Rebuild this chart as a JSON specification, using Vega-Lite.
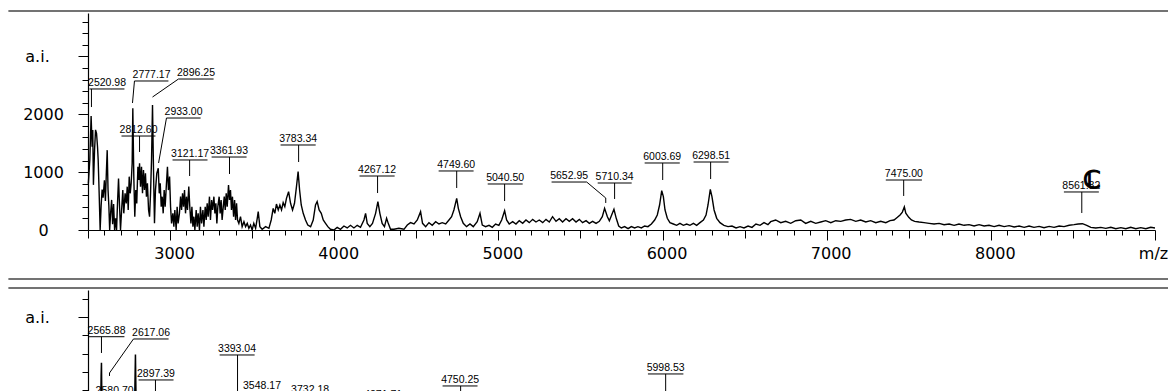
{
"$schema": "https://vega.github.io/schema/vega-lite/v6.json",
"background": "white",
"padding": {"left": 7, "top": 10, "right": 0, "bottom": 0},
"bounds": "flush",
"spacing": 60,
"config": {"view": {"stroke": null}},
"datasets": {
"spec1": [
{"mz":2502,"ai":800},{"mz":2511,"ai":1210},{"mz":2519,"ai":1970},{"mz":2525,"ai":1440},{"mz":2529,"ai":1730},{"mz":2533,"ai":780},{"mz":2540,"ai":1380},{"mz":2546,"ai":1730},{"mz":2552,"ai":1670},{"mz":2558,"ai":1440},{"mz":2562,"ai":1210},{"mz":2568,"ai":630},{"mz":2574,"ai":0},{"mz":2580,"ai":420},{"mz":2586,"ai":700},{"mz":2592,"ai":560},{"mz":2600,"ai":860},{"mz":2606,"ai":500},{"mz":2612,"ai":1000},{"mz":2617,"ai":1380},{"mz":2622,"ai":700},{"mz":2627,"ai":420},{"mz":2632,"ai":0},{"mz":2638,"ai":300},{"mz":2644,"ai":520},{"mz":2650,"ai":100},{"mz":2656,"ai":450},{"mz":2662,"ai":0},{"mz":2668,"ai":200},{"mz":2674,"ai":0},{"mz":2680,"ai":480},{"mz":2686,"ai":890},{"mz":2692,"ai":420},{"mz":2698,"ai":0},
{"mz":2706,"ai":403},{"mz":2712,"ai":690},{"mz":2718,"ai":288},{"mz":2726,"ai":634},{"mz":2733,"ai":460},{"mz":2739,"ai":749},{"mz":2745,"ai":345},{"mz":2751,"ai":922},{"mz":2757,"ai":634},{"mz":2763,"ai":806},{"mz":2769,"ai":1152},{"mz":2773,"ai":2102},{"mz":2779,"ai":922},{"mz":2785,"ai":230},{"mz":2791,"ai":690},{"mz":2797,"ai":460},{"mz":2804,"ai":1094},{"mz":2810,"ai":864},{"mz":2814,"ai":1152},{"mz":2820,"ai":749},{"mz":2826,"ai":1094},{"mz":2832,"ai":634},{"mz":2838,"ai":1037},{"mz":2844,"ai":690},{"mz":2850,"ai":979},{"mz":2856,"ai":576},{"mz":2862,"ai":806},{"mz":2869,"ai":345},{"mz":2875,"ai":230},{"mz":2881,"ai":634},{"mz":2887,"ai":1210},{"mz":2893,"ai":2160},{"mz":2899,"ai":1037},{"mz":2905,"ai":115},{"mz":2911,"ai":690},{"mz":2919,"ai":979},{"mz":2928,"ai":1066},{"mz":2934,"ai":634},{"mz":2940,"ai":806},{"mz":2946,"ai":403},{"mz":2952,"ai":576},{"mz":2958,"ai":288},{"mz":2964,"ai":690},{"mz":2970,"ai":403},{"mz":2978,"ai":806},{"mz":2984,"ai":1094},{"mz":2990,"ai":690},{"mz":2997,"ai":922},{"mz":3003,"ai":403},{"mz":3009,"ai":115},{"mz":3017,"ai":288},{"mz":3023,"ai":58},{"mz":3029,"ai":345},{"mz":3037,"ai":0},{"mz":3043,"ai":403},{"mz":3049,"ai":115},{"mz":3057,"ai":288},{"mz":3064,"ai":576},{"mz":3070,"ai":345},{"mz":3076,"ai":634},{"mz":3082,"ai":403},{"mz":3088,"ai":690},{"mz":3094,"ai":288},{"mz":3100,"ai":576},{"mz":3106,"ai":345},{"mz":3114,"ai":749},{"mz":3120,"ai":403},{"mz":3127,"ai":115},{"mz":3133,"ai":403},{"mz":3139,"ai":58},{"mz":3145,"ai":230},{"mz":3151,"ai":0},{"mz":3159,"ai":345},{"mz":3165,"ai":58},{"mz":3171,"ai":288},{"mz":3179,"ai":0},{"mz":3185,"ai":403},{"mz":3192,"ai":115},{"mz":3200,"ai":345},{"mz":3206,"ai":58},{"mz":3214,"ai":403},{"mz":3220,"ai":173},{"mz":3226,"ai":460},{"mz":3232,"ai":230},{"mz":3240,"ai":576},{"mz":3246,"ai":173},{"mz":3253,"ai":518},{"mz":3259,"ai":345},{"mz":3267,"ai":576},{"mz":3273,"ai":288},{"mz":3279,"ai":460},{"mz":3285,"ai":115},{"mz":3291,"ai":403},{"mz":3299,"ai":576},{"mz":3305,"ai":288},{"mz":3311,"ai":518},{"mz":3317,"ai":173},{"mz":3324,"ai":403},{"mz":3330,"ai":576},{"mz":3336,"ai":345},{"mz":3342,"ai":634},{"mz":3348,"ai":403},{"mz":3356,"ai":778},{"mz":3362,"ai":518},{"mz":3368,"ai":690},{"mz":3374,"ai":345},{"mz":3380,"ai":576},{"mz":3387,"ai":230},{"mz":3393,"ai":518},{"mz":3399,"ai":173},{"mz":3405,"ai":460},{"mz":3411,"ai":173},{"mz":3419,"ai":115},{"mz":3429,"ai":230},{"mz":3439,"ai":58},{"mz":3450,"ai":144},{"mz":3460,"ai":58},{"mz":3470,"ai":115},{"mz":3480,"ai":29},{"mz":3490,"ai":86},{"mz":3500,"ai":0},{"mz":3510,"ai":115},{"mz":3521,"ai":29},{"mz":3531,"ai":201},{"mz":3537,"ai":317},{"mz":3547,"ai":58},{"mz":3561,"ai":12},{"mz":3582,"ai":58},{"mz":3602,"ai":29},{"mz":3616,"ai":173},{"mz":3628,"ai":374},{"mz":3638,"ai":288},{"mz":3648,"ai":449},{"mz":3659,"ai":346},{"mz":3669,"ai":432},{"mz":3679,"ai":346},{"mz":3689,"ai":472},{"mz":3699,"ai":403},{"mz":3709,"ai":547},{"mz":3722,"ai":662},{"mz":3734,"ai":461},{"mz":3746,"ai":346},{"mz":3758,"ai":461},{"mz":3770,"ai":749},{"mz":3780,"ai":1008},{"mz":3789,"ai":691},{"mz":3799,"ai":432},{"mz":3811,"ai":288},{"mz":3825,"ai":173},{"mz":3839,"ai":86},{"mz":3856,"ai":58},{"mz":3872,"ai":173},{"mz":3886,"ai":432},{"mz":3896,"ai":490},{"mz":3908,"ai":346},{"mz":3921,"ai":288},{"mz":3933,"ai":173},{"mz":3947,"ai":115},{"mz":3961,"ai":58},{"mz":3977,"ai":12},{"mz":3998,"ai":0},{"mz":4018,"ai":46},{"mz":4038,"ai":12},{"mz":4059,"ai":69},{"mz":4079,"ai":35},{"mz":4099,"ai":81},{"mz":4120,"ai":35},{"mz":4140,"ai":81},{"mz":4160,"ai":46},{"mz":4181,"ai":173},{"mz":4191,"ai":288},{"mz":4201,"ai":115},{"mz":4217,"ai":58},{"mz":4233,"ai":115},{"mz":4252,"ai":288},{"mz":4266,"ai":490},{"mz":4278,"ai":288},{"mz":4292,"ai":115},{"mz":4306,"ai":58},{"mz":4319,"ai":202},{"mz":4329,"ai":115},{"mz":4343,"ai":12},{"mz":4364,"ai":12},{"mz":4394,"ai":29},{"mz":4425,"ai":12},{"mz":4445,"ai":86},{"mz":4465,"ai":127},{"mz":4486,"ai":104},{"mz":4506,"ai":173},{"mz":4526,"ai":317},{"mz":4538,"ai":115},{"mz":4557,"ai":58},{"mz":4577,"ai":127},{"mz":4597,"ai":81},{"mz":4618,"ai":144},{"mz":4638,"ai":104},{"mz":4658,"ai":127},{"mz":4679,"ai":104},{"mz":4699,"ai":173},{"mz":4715,"ai":230},{"mz":4729,"ai":346},{"mz":4746,"ai":547},{"mz":4756,"ai":374},{"mz":4770,"ai":230},{"mz":4786,"ai":115},{"mz":4806,"ai":58},{"mz":4827,"ai":104},{"mz":4847,"ai":58},{"mz":4871,"ai":144},{"mz":4888,"ai":288},{"mz":4902,"ai":86},{"mz":4922,"ai":58},{"mz":4943,"ai":81},{"mz":4963,"ai":46},{"mz":4983,"ai":104},{"mz":5003,"ai":81},{"mz":5020,"ai":173},{"mz":5038,"ai":334},{"mz":5050,"ai":173},{"mz":5066,"ai":104},{"mz":5087,"ai":144},{"mz":5107,"ai":104},{"mz":5127,"ai":161},{"mz":5148,"ai":115},{"mz":5168,"ai":173},{"mz":5188,"ai":127},{"mz":5209,"ai":184},{"mz":5229,"ai":138},{"mz":5249,"ai":173},{"mz":5270,"ai":127},{"mz":5290,"ai":184},{"mz":5310,"ai":138},{"mz":5330,"ai":230},{"mz":5351,"ai":150},{"mz":5371,"ai":196},{"mz":5391,"ai":138},{"mz":5412,"ai":196},{"mz":5432,"ai":150},{"mz":5452,"ai":196},{"mz":5473,"ai":138},{"mz":5493,"ai":184},{"mz":5513,"ai":127},{"mz":5534,"ai":161},{"mz":5554,"ai":115},{"mz":5574,"ai":150},{"mz":5595,"ai":115},{"mz":5615,"ai":150},{"mz":5633,"ai":230},{"mz":5647,"ai":374},{"mz":5664,"ai":230},{"mz":5676,"ai":161},{"mz":5690,"ai":259},{"mz":5704,"ai":357},{"mz":5718,"ai":202},{"mz":5733,"ai":69},{"mz":5749,"ai":35},{"mz":5769,"ai":58},{"mz":5790,"ai":23},{"mz":5810,"ai":58},{"mz":5830,"ai":35},{"mz":5850,"ai":58},{"mz":5871,"ai":35},{"mz":5891,"ai":69},{"mz":5911,"ai":58},{"mz":5932,"ai":104},{"mz":5952,"ai":173},{"mz":5968,"ai":259},{"mz":5982,"ai":432},{"mz":5995,"ai":680},{"mz":6005,"ai":576},{"mz":6015,"ai":346},{"mz":6029,"ai":202},{"mz":6045,"ai":127},{"mz":6066,"ai":104},{"mz":6086,"ai":81},{"mz":6106,"ai":115},{"mz":6127,"ai":81},{"mz":6147,"ai":104},{"mz":6167,"ai":81},{"mz":6188,"ai":115},{"mz":6208,"ai":81},{"mz":6228,"ai":127},{"mz":6249,"ai":173},{"mz":6265,"ai":259},{"mz":6277,"ai":432},{"mz":6291,"ai":703},{"mz":6301,"ai":576},{"mz":6314,"ai":346},{"mz":6330,"ai":202},{"mz":6350,"ai":127},{"mz":6374,"ai":81},{"mz":6399,"ai":58},{"mz":6423,"ai":69},{"mz":6448,"ai":35},{"mz":6472,"ai":58},{"mz":6496,"ai":35},{"mz":6521,"ai":69},{"mz":6545,"ai":46},{"mz":6569,"ai":104},{"mz":6594,"ai":81},{"mz":6618,"ai":127},{"mz":6642,"ai":92},{"mz":6659,"ai":144},{"mz":6689,"ai":173},{"mz":6720,"ai":127},{"mz":6750,"ai":150},{"mz":6781,"ai":115},{"mz":6811,"ai":161},{"mz":6842,"ai":173},{"mz":6872,"ai":115},{"mz":6903,"ai":150},{"mz":6933,"ai":115},{"mz":6964,"ai":138},{"mz":6994,"ai":161},{"mz":7025,"ai":127},{"mz":7055,"ai":161},{"mz":7086,"ai":150},{"mz":7116,"ai":173},{"mz":7146,"ai":184},{"mz":7177,"ai":150},{"mz":7207,"ai":173},{"mz":7238,"ai":138},{"mz":7268,"ai":161},{"mz":7299,"ai":127},{"mz":7329,"ai":150},{"mz":7360,"ai":127},{"mz":7386,"ai":161},{"mz":7410,"ai":173},{"mz":7431,"ai":219},{"mz":7447,"ai":260},{"mz":7461,"ai":310},{"mz":7473,"ai":400},{"mz":7482,"ai":290},{"mz":7500,"ai":219},{"mz":7516,"ai":173},{"mz":7536,"ai":150},{"mz":7563,"ai":138},{"mz":7593,"ai":127},{"mz":7624,"ai":115},{"mz":7654,"ai":104},{"mz":7685,"ai":115},{"mz":7715,"ai":92},{"mz":7746,"ai":104},{"mz":7776,"ai":81},{"mz":7806,"ai":104},{"mz":7837,"ai":81},{"mz":7867,"ai":92},{"mz":7898,"ai":69},{"mz":7928,"ai":92},{"mz":7959,"ai":69},{"mz":7989,"ai":81},{"mz":8020,"ai":58},{"mz":8050,"ai":81},{"mz":8081,"ai":58},{"mz":8111,"ai":75},{"mz":8142,"ai":52},{"mz":8172,"ai":69},{"mz":8203,"ai":46},{"mz":8233,"ai":69},{"mz":8263,"ai":46},{"mz":8294,"ai":63},{"mz":8324,"ai":40},{"mz":8355,"ai":63},{"mz":8385,"ai":46},{"mz":8416,"ai":69},{"mz":8446,"ai":58},{"mz":8477,"ai":81},{"mz":8507,"ai":92},{"mz":8532,"ai":104},{"mz":8558,"ai":109},{"mz":8584,"ai":81},{"mz":8609,"ai":46},{"mz":8639,"ai":35},{"mz":8670,"ai":46},{"mz":8700,"ai":29},{"mz":8731,"ai":46},{"mz":8761,"ai":23},{"mz":8792,"ai":40},{"mz":8822,"ai":23},{"mz":8852,"ai":46},{"mz":8883,"ai":23},{"mz":8913,"ai":40},{"mz":8944,"ai":23},{"mz":8974,"ai":46},{"mz":9000,"ai":35}
],
"labels1": [
{"label":"2520.98","tx":2616,"uy":2437,"u1":2509,"u2":2722},
{"label":"2777.17","tx":2887,"uy":2575,"u1":2783,"u2":2990},
{"label":"2896.25","tx":3158,"uy":2609,"u1":3051,"u2":3265},
{"label":"2812.60","tx":2808,"uy":1624,"u1":2704,"u2":2911},
{"label":"2933.00","tx":3082,"uy":1935,"u1":2978,"u2":3186},
{"label":"3121.17","tx":3122,"uy":1210,"u1":3015,"u2":3228},
{"label":"3361.93","tx":3359,"uy":1261,"u1":3253,"u2":3466},
{"label":"3783.34","tx":3780,"uy":1469,"u1":3673,"u2":3887},
{"label":"4267.12","tx":4261,"uy":933,"u1":4154,"u2":4368},
{"label":"4749.60","tx":4743,"uy":1020,"u1":4636,"u2":4849},
{"label":"5040.50","tx":5041,"uy":795,"u1":4935,"u2":5148},
{"label":"5652.95","tx":5431,"uy":829,"u1":5324,"u2":5538},
{"label":"5710.34","tx":5708,"uy":812,"u1":5605,"u2":5812},
{"label":"6003.69","tx":5998,"uy":1158,"u1":5891,"u2":6105},
{"label":"6298.51","tx":6296,"uy":1175,"u1":6189,"u2":6402},
{"label":"7475.00","tx":7470,"uy":864,"u1":7360,"u2":7580},
{"label":"8561.82","tx":8551,"uy":657,"u1":8445,"u2":8658}
],
"leaders1": [
{"x1":2521,"y1":2437,"x2":2521,"y2":2125},
{"x1":2783,"y1":2575,"x2":2771,"y2":2195},
{"x1":3051,"y1":2609,"x2":2893,"y2":2298},
{"x1":2814,"y1":1624,"x2":2814,"y2":1348},
{"x1":2978,"y1":1935,"x2":2930,"y2":1158},
{"x1":3119,"y1":1210,"x2":3119,"y2":933},
{"x1":3362,"y1":1261,"x2":3362,"y2":968},
{"x1":3783,"y1":1469,"x2":3783,"y2":1175},
{"x1":4264,"y1":933,"x2":4264,"y2":639},
{"x1":4746,"y1":1020,"x2":4746,"y2":726},
{"x1":5038,"y1":795,"x2":5038,"y2":501},
{"x1":5538,"y1":829,"x2":5654,"y2":553},
{"x1":5654,"y1":553,"x2":5654,"y2":467},
{"x1":5708,"y1":812,"x2":5708,"y2":536},
{"x1":6001,"y1":1158,"x2":6001,"y2":864},
{"x1":6293,"y1":1175,"x2":6293,"y2":881},
{"x1":7469,"y1":864,"x2":7469,"y2":588},
{"x1":8554,"y1":657,"x2":8554,"y2":294}
],
"frame1": [
{"x1":2015,"x2":9085,"y":3785},
{"x1":2015,"x2":9085,"y":-847}
],
"spec2": [
{"mz":2500,"ai":400},{"mz":2540,"ai":900},{"mz":2560,"ai":1000},{"mz":2575,"ai":700},{"mz":2580,"ai":1350},{"mz":2582,"ai":1500},{"mz":2586,"ai":800},{"mz":2620,"ai":900},{"mz":2640,"ai":600},{"mz":2700,"ai":700},{"mz":2760,"ai":900},{"mz":2785,"ai":1150},{"mz":2789,"ai":1590},{"mz":2794,"ai":900},{"mz":2850,"ai":800},{"mz":2900,"ai":1000},{"mz":2950,"ai":600},{"mz":3000,"ai":500},{"mz":3100,"ai":400},{"mz":3200,"ai":500},{"mz":3300,"ai":600},{"mz":3393,"ai":700},{"mz":3500,"ai":300},{"mz":3548,"ai":500},{"mz":3600,"ai":200},{"mz":3732,"ai":500},{"mz":3800,"ai":200},{"mz":4000,"ai":100},{"mz":4271,"ai":300},{"mz":4400,"ai":100},{"mz":4750,"ai":500},{"mz":4900,"ai":100},{"mz":5500,"ai":100},{"mz":5998,"ai":600},{"mz":6200,"ai":100},{"mz":7000,"ai":100},{"mz":9000,"ai":50}
],
"labels2": [
{"label":"2565.88","tx":2613,"uy":1786,"u1":2503,"u2":2722},
{"label":"2617.06","tx":2884,"uy":1761,"u1":2777,"u2":2991},
{"label":"2897.39","tx":2914,"uy":1310,"u1":2808,"u2":3021},
{"label":"3393.04","tx":3408,"uy":1585,"u1":3302,"u2":3515},
{"label":"3548.17","tx":3560,"uy":1177,"u1":3455,"u2":3665},
{"label":"3732.18","tx":3853,"uy":1133,"u1":3746,"u2":3960},
{"label":"4271.71","tx":4298,"uy":1078,"u1":4190,"u2":4405},
{"label":"4750.25","tx":4767,"uy":1244,"u1":4660,"u2":4873},
{"label":"5998.53","tx":6019,"uy":1376,"u1":5911,"u2":6127},
{"label":"2580.70","tx":2662,"uy":1122,"u1":2555,"u2":2769}
],
"leaders2": [
{"x1":2582,"y1":1786,"x2":2582,"y2":1607},
{"x1":2777,"y1":1761,"x2":2631,"y2":1387},
{"x1":2631,"y1":1387,"x2":2631,"y2":1354},
{"x1":2911,"y1":1310,"x2":2911,"y2":900},
{"x1":3411,"y1":1585,"x2":3411,"y2":800},
{"x1":3560,"y1":1177,"x2":3560,"y2":800},
{"x1":3853,"y1":1133,"x2":3853,"y2":800},
{"x1":4298,"y1":1078,"x2":4298,"y2":700},
{"x1":4770,"y1":1244,"x2":4770,"y2":800},
{"x1":6019,"y1":1376,"x2":6019,"y2":800},
{"x1":2662,"y1":1122,"x2":2662,"y2":800}
],
"frame2": [
{"x1":2015,"x2":9085,"y":2322}
],
"sym1": [
{"sym":"ℂ","mz":8616,"ai":847}
]
},
"vconcat": [
{
"width": 1067, "height": 217,
"layer": [
{"data": {"name": "spec1"}, "mark": {"type": "line", "color": "#000", "strokeWidth": 1.4},
"encoding": {
"x": {"field": "mz", "type": "quantitative", "scale": {"domain": [2500, 9000], "nice": false, "zero": false},
"axis": {"title": null, "grid": false, "tickCount": 500, "values": [2500,2600,2700,2800,2900,3000,3100,3200,3300,3400,3500,3600,3700,3800,3900,4000,4100,4200,4300,4400,4500,4600,4700,4800,4900,5000,5100,5200,5300,5400,5500,5600,5700,5800,5900,6000,6100,6200,6300,6400,6500,6600,6700,6800,6900,7000,7100,7200,7300,7400,7500,7600,7700,7800,7900,8000,8100,8200,8300,8400,8500,8600,8700,8800,8900,9000],
"format": "d", "labelExpr": "datum.value == 9000 ? 'm/z' : (datum.value % 1000 == 0 ? datum.label : '')",
"tickSize": {"condition": [{"test": "datum.value % 1000 == 0", "value": 10}, {"test": "datum.value % 500 == 0", "value": 8}], "value": 5},
"labelOffset": {"condition": {"test": "datum.value == 9000", "value": -2}, "value": 4},
"labelPadding": 5, "labelOverlap": false, "labelBound": false, "labelFlush": false,
"domainColor": "#000", "domainWidth": 1.2, "tickColor": "#000", "tickWidth": 1, "labelColor": "#000", "labelFont": "DejaVu Sans", "labelFontSize": 16}},
"y": {"field": "ai", "type": "quantitative", "scale": {"domain": [0, 3750], "nice": false, "zero": false},
"axis": {"title": null, "grid": false, "tickCount": 500, "values": [0,200,400,600,800,1000,1200,1400,1600,1800,2000,2200,2400,2600,2800,3000,3200,3400,3600],
"format": "d", "labelExpr": "datum.value == 3000 ? 'a.i.' : (datum.value % 1000 == 0 ? datum.label : '')",
"tickSize": {"condition": {"test": "datum.value % 1000 == 0", "value": 10}, "value": 6},
"labelAlign": "center",
"labelPadding": {"condition": {"test": "datum.value == 3000", "value": 41}, "value": 35},
"labelOverlap": false, "labelBound": false, "labelFlush": false,
"domainColor": "#000", "domainWidth": 1.2, "tickColor": "#000", "tickWidth": 1, "labelColor": "#000", "labelFont": "DejaVu Sans", "labelFontSize": 16}}
}},
{"data": {"name": "labels1"}, "mark": {"type": "rule", "color": "#000", "strokeWidth": 1},
"encoding": {"x": {"field": "u1", "type": "quantitative", "scale": {"domain": [2500, 9000], "nice": false, "zero": false}}, "x2": {"field": "u2"},
"y": {"field": "uy", "type": "quantitative", "scale": {"domain": [0, 3750], "nice": false, "zero": false}}}},
{"data": {"name": "leaders1"}, "mark": {"type": "rule", "color": "#000", "strokeWidth": 1},
"encoding": {"x": {"field": "x1", "type": "quantitative", "scale": {"domain": [2500, 9000], "nice": false, "zero": false}}, "x2": {"field": "x2"},
"y": {"field": "y1", "type": "quantitative", "scale": {"domain": [0, 3750], "nice": false, "zero": false}}, "y2": {"field": "y2"}}},
{"data": {"name": "labels1"}, "mark": {"type": "text", "font": "Liberation Sans", "fontSize": 10.5, "align": "center", "baseline": "alphabetic", "dy": -3, "color": "#000"},
"encoding": {"x": {"field": "tx", "type": "quantitative", "scale": {"domain": [2500, 9000], "nice": false, "zero": false}},
"y": {"field": "uy", "type": "quantitative", "scale": {"domain": [0, 3750], "nice": false, "zero": false}}, "text": {"field": "label"}}},
{"data": {"name": "sym1"}, "mark": {"type": "text", "font": "DejaVu Sans", "fontWeight": "bold", "fontSize": 24, "align": "center", "baseline": "middle", "color": "#000", "stroke": "#000", "strokeWidth": 1.2},
"encoding": {"x": {"field": "mz", "type": "quantitative", "scale": {"domain": [2500, 9000], "nice": false, "zero": false}},
"y": {"field": "ai", "type": "quantitative", "scale": {"domain": [0, 3750], "nice": false, "zero": false}}, "text": {"field": "sym"}}},
{"data": {"name": "frame1"}, "mark": {"type": "rule", "color": "#444", "strokeWidth": 1.5},
"encoding": {"x": {"field": "x1", "type": "quantitative", "scale": {"domain": [2500, 9000], "nice": false, "zero": false}}, "x2": {"field": "x2"},
"y": {"field": "y", "type": "quantitative", "scale": {"domain": [0, 3750], "nice": false, "zero": false}}}}
]
},
{
"width": 1067, "height": 209,
"layer": [
{"data": {"name": "spec2"}, "mark": {"type": "line", "color": "#000", "strokeWidth": 1.5},
"encoding": {
"x": {"field": "mz", "type": "quantitative", "scale": {"domain": [2500, 9000], "nice": false, "zero": false},
"axis": {"title": null, "grid": false, "tickCount": 500, "values": [2500,2600,2700,2800,2900,3000,3100,3200,3300,3400,3500,3600,3700,3800,3900,4000,4100,4200,4300,4400,4500,4600,4700,4800,4900,5000,5100,5200,5300,5400,5500,5600,5700,5800,5900,6000,6100,6200,6300,6400,6500,6600,6700,6800,6900,7000,7100,7200,7300,7400,7500,7600,7700,7800,7900,8000,8100,8200,8300,8400,8500,8600,8700,8800,8900,9000],
"format": "d", "labelExpr": "datum.value == 9000 ? 'm/z' : (datum.value % 1000 == 0 ? datum.label : '')",
"tickSize": {"condition": [{"test": "datum.value % 1000 == 0", "value": 10}, {"test": "datum.value % 500 == 0", "value": 8}], "value": 5},
"labelOffset": {"condition": {"test": "datum.value == 9000", "value": -2}, "value": 4},
"labelPadding": 5, "labelOverlap": false, "labelBound": false, "labelFlush": false,
"domainColor": "#000", "domainWidth": 1.2, "tickColor": "#000", "tickWidth": 1, "labelColor": "#000", "labelFont": "DejaVu Sans", "labelFontSize": 16}},
"y": {"field": "ai", "type": "quantitative", "scale": {"domain": [0, 2300], "nice": false, "zero": false},
"axis": {"title": null, "grid": false, "tickCount": 500, "values": [0,200,400,600,800,1000,1200,1400,1600,1800,2000,2200],
"format": "d", "labelExpr": "datum.value == 2000 ? 'a.i.' : (datum.value % 1000 == 0 ? datum.label : '')",
"tickSize": {"condition": {"test": "datum.value % 1000 == 0", "value": 10}, "value": 6},
"labelAlign": "center",
"labelPadding": {"condition": {"test": "datum.value == 2000", "value": 41}, "value": 35},
"labelOverlap": false, "labelBound": false, "labelFlush": false,
"domainColor": "#000", "domainWidth": 1.2, "tickColor": "#000", "tickWidth": 1, "labelColor": "#000", "labelFont": "DejaVu Sans", "labelFontSize": 16}}
}},
{"data": {"name": "labels2"}, "mark": {"type": "rule", "color": "#000", "strokeWidth": 1},
"encoding": {"x": {"field": "u1", "type": "quantitative", "scale": {"domain": [2500, 9000], "nice": false, "zero": false}}, "x2": {"field": "u2"},
"y": {"field": "uy", "type": "quantitative", "scale": {"domain": [0, 2300], "nice": false, "zero": false}}}},
{"data": {"name": "leaders2"}, "mark": {"type": "rule", "color": "#000", "strokeWidth": 1},
"encoding": {"x": {"field": "x1", "type": "quantitative", "scale": {"domain": [2500, 9000], "nice": false, "zero": false}}, "x2": {"field": "x2"},
"y": {"field": "y1", "type": "quantitative", "scale": {"domain": [0, 2300], "nice": false, "zero": false}}, "y2": {"field": "y2"}}},
{"data": {"name": "labels2"}, "mark": {"type": "text", "font": "Liberation Sans", "fontSize": 10.5, "align": "center", "baseline": "alphabetic", "dy": -3, "color": "#000"},
"encoding": {"x": {"field": "tx", "type": "quantitative", "scale": {"domain": [2500, 9000], "nice": false, "zero": false}},
"y": {"field": "uy", "type": "quantitative", "scale": {"domain": [0, 2300], "nice": false, "zero": false}}, "text": {"field": "label"}}},
{"data": {"name": "frame2"}, "mark": {"type": "rule", "color": "#444", "strokeWidth": 1.5},
"encoding": {"x": {"field": "x1", "type": "quantitative", "scale": {"domain": [2500, 9000], "nice": false, "zero": false}}, "x2": {"field": "x2"},
"y": {"field": "y", "type": "quantitative", "scale": {"domain": [0, 2300], "nice": false, "zero": false}}}}
]
}
]
}
